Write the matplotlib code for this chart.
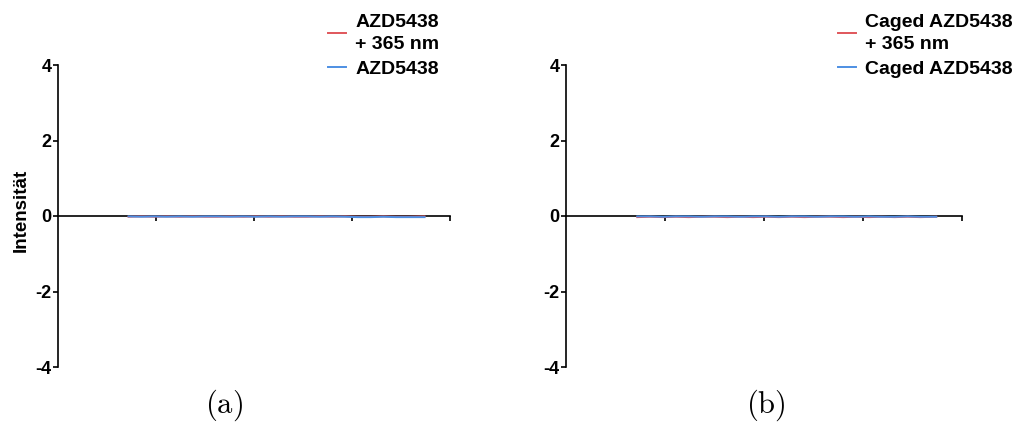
import numpy as np
import matplotlib
matplotlib.use("Agg")
import matplotlib.pyplot as plt

plt.rcParams['font.family'] = ['Liberation Sans', 'DejaVu Sans']
plt.rcParams['font.weight'] = 'bold'
plt.rcParams['mathtext.fontset'] = 'cm'

# data (all close to zero)
x_a = [0.72, 0.85, 0.98, 1.11, 1.24, 1.37, 1.50, 1.63, 1.76, 1.89, 2.02, 2.15, 2.28,
       2.41, 2.54, 2.67, 2.80, 2.93, 3.06, 3.19, 3.32, 3.45, 3.58, 3.74]
red_a = [-0.02, -0.01, -0.02, -0.01, -0.02, -0.01, -0.02, -0.02, -0.01, -0.02, -0.01, -0.02,
         -0.01, -0.02, -0.02, -0.01, -0.02, -0.01, -0.02, -0.02, -0.01, -0.02, -0.02, -0.01]
blue_a = [-0.01, -0.02, -0.01, -0.02, -0.01, -0.02, -0.01, -0.01, -0.02, -0.01, -0.02, -0.01,
          -0.02, -0.01, -0.01, -0.02, -0.01, -0.02, -0.03, -0.03, -0.02, -0.03, -0.03, -0.03]

x_b = [0.72, 0.85, 0.98, 1.11, 1.24, 1.37, 1.50, 1.63, 1.76, 1.89, 2.02, 2.15, 2.28,
       2.41, 2.54, 2.67, 2.80, 2.93, 3.06, 3.19, 3.32, 3.45, 3.58, 3.74]
red_b = [-0.03, -0.02, -0.03, -0.02, -0.03, -0.02, -0.02, -0.03, -0.02, -0.03, -0.02, -0.03,
         -0.02, -0.03, -0.02, -0.02, -0.03, -0.02, -0.03, -0.02, -0.03, -0.02, -0.03, -0.02]
blue_b = [-0.01, -0.01, -0.02, -0.01, -0.01, -0.02, -0.01, -0.01, -0.02, -0.01, -0.01, -0.02,
          -0.01, -0.01, -0.02, -0.01, -0.01, -0.02, -0.01, -0.02, -0.02, -0.01, -0.02, -0.02]

labels_a = ["AZD5438\n+ 365 nm", "AZD5438"]
labels_b = ["Caged AZD5438\n+ 365 nm", "Caged AZD5438"]
yticks = [-4, -2, 0, 2, 4]
xticks = [1, 2, 3, 4]

red = '#e0565b'
blue = '#4d8fe3'

fig = plt.figure(figsize=(10.2, 4.25), dpi=100)
ax1 = fig.add_axes([58/1020, 1-367/425, 392/1020, 302/425])
ax2 = fig.add_axes([566/1020, 1-367/425, 396/1020, 302/425])

panels = [(ax1, x_a, red_a, blue_a, labels_a, 328, 224, '(a)'),
          (ax2, x_b, red_b, blue_b, labels_b, 838, 766, '(b)')]

for ax, x, r, b, labs, lx, cx, cap in panels:
    l1, = ax.plot(x, r, color=red, lw=1.4, zorder=3)
    l2, = ax.plot(x, b, color=blue, lw=1.4, zorder=3)
    ax.set_xlim(0, 4)
    ax.set_ylim(-4, 4)
    ax.set_yticks(yticks)
    ax.set_yticklabels([str(t) for t in yticks])
    ax.set_xticks(xticks)
    ax.set_xticklabels([])
    ax.spines['top'].set_visible(False)
    ax.spines['right'].set_visible(False)
    ax.spines['bottom'].set_position(('data', 0))
    ax.spines['left'].set_linewidth(1.2)
    ax.spines['bottom'].set_linewidth(1.2)
    ax.tick_params(axis='y', direction='out', length=3.6, width=1.2, labelsize=13, pad=1)
    ax.tick_params(axis='x', direction='out', length=3.6, width=1.2)
    leg = fig.legend([l1, l2], labs, loc='upper left', bbox_to_anchor=(lx/1020, 1-14/425),
                     frameon=False, handlelength=0.95, handletextpad=0.45,
                     borderpad=0, borderaxespad=0, labelspacing=0.4,
                     prop={'weight': 'bold', 'size': 14})
    for t in leg.get_texts():
        t.set_linespacing(1.35)
    fig.text(cx/1020, 1-405/425, r'$\mathrm{' + cap + '}$',
             ha='center', va='center', fontsize=22)

ax1.set_ylabel('Intensität', fontsize=13.5, fontweight='bold')
ax1.yaxis.set_label_coords(-0.072, 0.517)

fig.savefig('out.png', dpi=100)
